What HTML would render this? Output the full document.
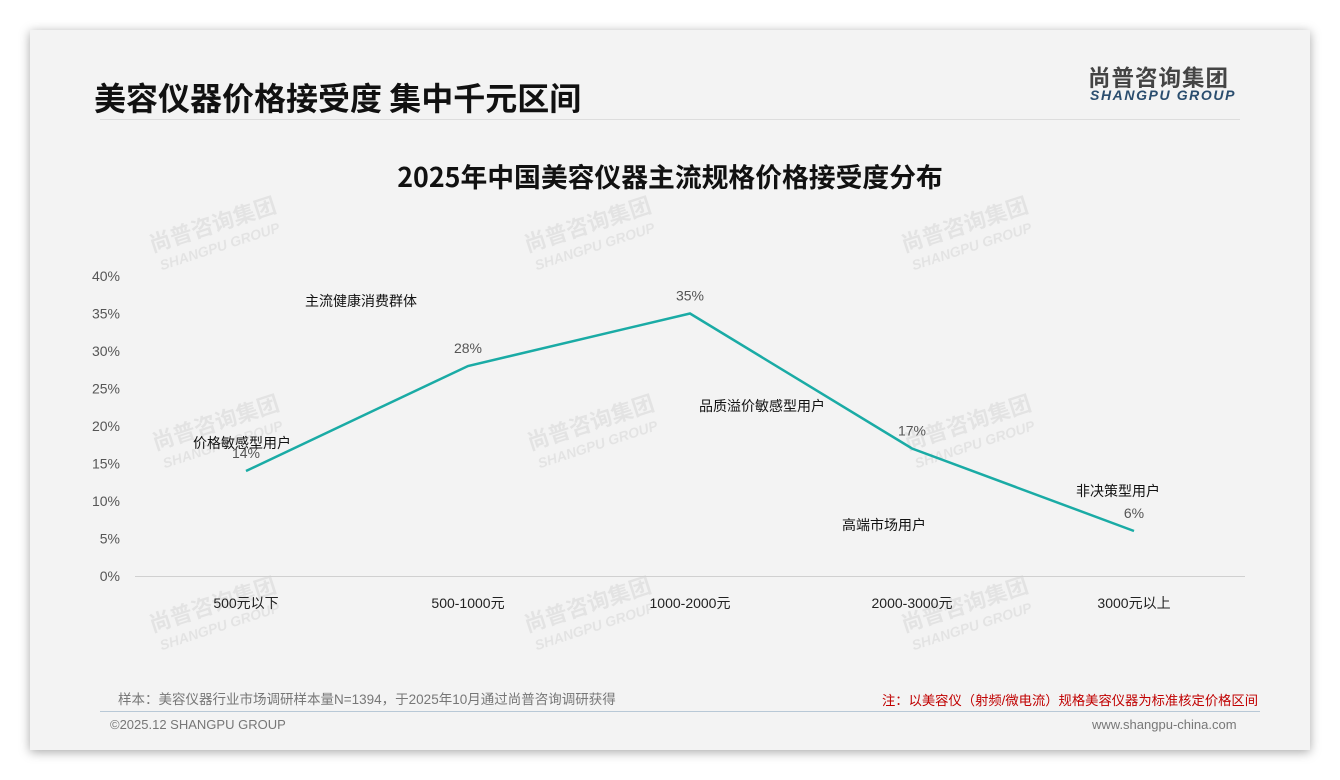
<!DOCTYPE html>
<html><head><meta charset="utf-8"><style>
body{margin:0;width:1340px;height:780px;background:#fff;font-family:"Liberation Sans","Noto Sans CJK SC",sans-serif;overflow:hidden;position:relative}
.card{position:absolute;left:30px;top:30px;width:1280px;height:720px;background:#f3f3f3;box-shadow:0 2px 10px rgba(0,0,0,.35)}
.abs{position:absolute;white-space:nowrap}
</style></head><body>
<div class="card">
<div class="abs" style="left:64px;top:44px;font-size:32px;font-weight:bold;color:#111;font-family:'Noto Sans CJK SC',sans-serif">美容仪器价格接受度 集中千元区间</div>
<div class="abs" style="left:1058px;top:31px;font-size:22.5px;font-weight:bold;color:#444;letter-spacing:1px;font-family:'Noto Sans CJK SC',sans-serif">尚普咨询集团</div>
<div class="abs" style="left:1060px;top:57px;font-size:14px;font-weight:bold;font-style:italic;color:#2a4d6e;letter-spacing:1.6px">SHANGPU GROUP</div>
<div class="abs" style="left:70px;top:89px;width:1140px;height:1px;background:#ddd"></div>
<div class="abs" style="left:88px;top:658px;font-size:13.5px;color:#777">样本：美容仪器行业市场调研样本量N=1394，于2025年10月通过尚普咨询调研获得</div>
<div class="abs" style="left:852px;top:660px;font-size:13.3px;color:#c00000">注：以美容仪（射频/微电流）规格美容仪器为标准核定价格区间</div>
<div class="abs" style="left:70px;top:681px;width:1160px;height:1px;background:#b8c8d6"></div>
<div class="abs" style="left:80px;top:687px;font-size:13px;color:#777">©2025.12 SHANGPU GROUP</div>
<div class="abs" style="left:1062px;top:687px;font-size:13px;color:#777">www.shangpu-china.com</div>
</div>
<svg class="abs" style="left:0;top:0" width="1340" height="780" id="chart">
<text x="670" y="187" text-anchor="middle" font-size="26.8" font-weight="bold" fill="#111" font-family="Noto Sans CJK SC,sans-serif">2025年中国美容仪器主流规格价格接受度分布</text>
</svg>
<script>
const categories=["500元以下","500-1000元","1000-2000元","2000-3000元","3000元以上"];
const values=[14,28,35,17,6];
const yTicks=[0,5,10,15,20,25,30,35,40];
const annotations=["价格敏感型用户","主流健康消费群体","品质溢价敏感型用户","高端市场用户","非决策型用户"];
const annX=[242,361,762,884,1118];
const annY=[448,306,411,530,496];
const svg=document.getElementById('chart');
const NS='http://www.w3.org/2000/svg';
const xS=i=>246+i*222;
const yS=v=>576-v*7.5;
function mk(tag,attrs,text){const e=document.createElementNS(NS,tag);for(const k in attrs)e.setAttribute(k,attrs[k]);if(text!==undefined)e.textContent=text;svg.appendChild(e);return e;}
[[215,232],[590,232],[967,232],[218,430],[593,430],[970,430],[215,612],[590,612],[967,612]].forEach(p=>{
const g=document.createElementNS(NS,'g');g.setAttribute('transform',`translate(${p[0]},${p[1]}) rotate(-18)`);g.setAttribute('opacity','0.06');


g.innerHTML='<text x="0" y="0" text-anchor="middle" font-size="22" font-weight="bold" fill="#000" font-family="Noto Sans CJK SC,sans-serif">尚普咨询集团</text><text x="0" y="20" text-anchor="middle" font-size="14" font-weight="bold" font-style="italic" fill="#000">SHANGPU GROUP</text>';
svg.appendChild(g);});
const ax=mk('line',{x1:135,x2:1245,y1:576.5,y2:576.5,stroke:'#d0d0d0','stroke-width':1});


yTicks.forEach(t=>{const e=mk('text',{x:120,y:yS(t)+5,'text-anchor':'end','font-size':14,fill:'#555'},t+'%');

});
categories.forEach((c,i)=>{const e=mk('text',{x:xS(i),y:608,'text-anchor':'middle','font-size':14,fill:'#222','font-family':'Liberation Sans,Noto Sans CJK SC,sans-serif'},c);

});
const line=mk('polyline',{points:values.map((v,i)=>xS(i)+','+yS(v)).join(' '),fill:'none',stroke:'#1aaba5','stroke-width':2.5});


values.forEach((v,i)=>{const e=mk('text',{x:xS(i),y:yS(v)-13,'text-anchor':'middle','font-size':14,fill:'#555'},v+'%');

});
annotations.forEach((a,i)=>{const e=mk('text',{x:annX[i],y:annY[i],'text-anchor':'middle','font-size':14,fill:'#111','font-family':'Noto Sans CJK SC,sans-serif'},a);

});
</script>
</body></html>
